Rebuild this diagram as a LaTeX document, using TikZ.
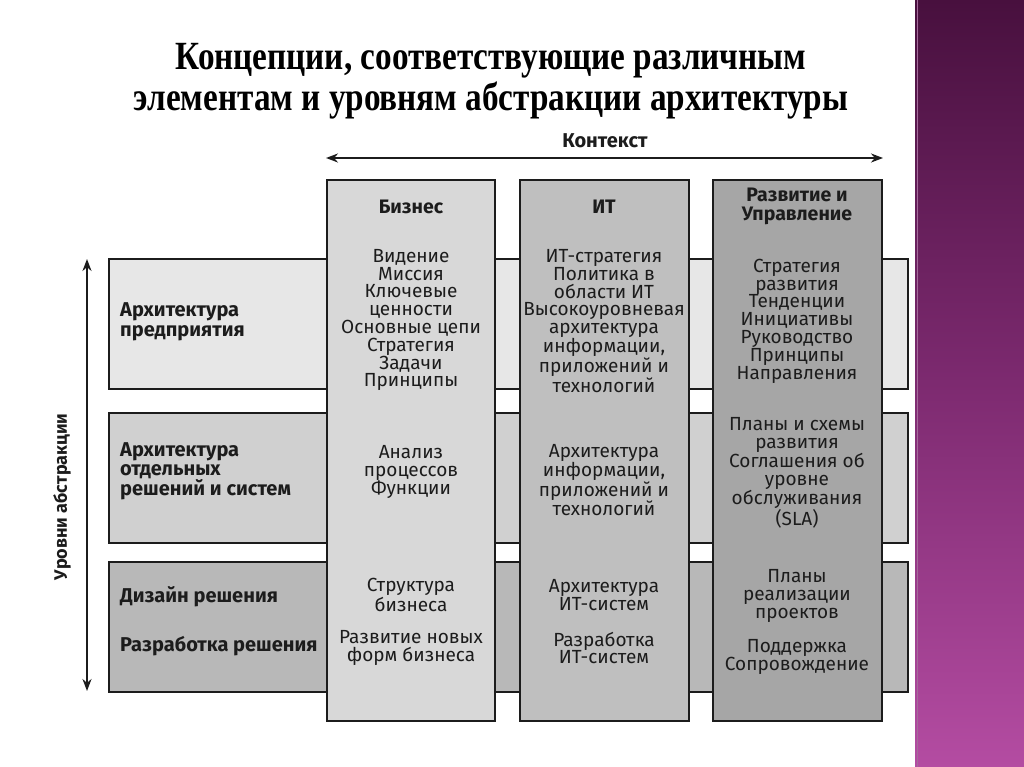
\documentclass[tikz,border=0pt]{standalone}
\usepackage{fontspec}
\setmainfont{Fira Sans}
\newfontfamily\titlefont[FakeStretch=0.83]{Liberation Serif}
\usetikzlibrary{arrows.meta}
\definecolor{plumtop}{RGB}{72,16,62}
\definecolor{plummid}{RGB}{125,42,112}
\definecolor{plumbot}{RGB}{180,76,162}
\definecolor{rowA}{RGB}{231,231,231}
\definecolor{rowB}{RGB}{208,208,208}
\definecolor{rowC}{RGB}{184,184,184}
\definecolor{colA}{RGB}{216,216,216}
\definecolor{colB}{RGB}{191,191,191}
\definecolor{colC}{RGB}{166,166,166}
\definecolor{ink}{RGB}{28,28,28}
\tikzset{
  box/.style={draw=ink, line width=1.6pt, anchor=north west, inner sep=0pt, outer sep=0pt},
  body/.style={font=\fontsize{19}{17.8}\selectfont, align=center, inner sep=0pt, text=ink},
  head/.style={font=\bfseries\fontsize{19.5}{19}\selectfont, align=center, inner sep=0pt, text=ink},
  rowlabel/.style={font=\bfseries\fontsize{20}{19.5}\selectfont, align=left, anchor=west, inner sep=0pt, text=ink},
  bigarrow/.style={line width=2.8pt, draw=ink, {Stealth[length=12pt,width=9pt]}-{Stealth[length=12pt,width=9pt]}}
}
\begin{document}
\begin{tikzpicture}[x=1pt,y=-1pt]
\useasboundingbox (0,0) rectangle (1024,767);
\fill[white] (0,0) rectangle (1024,767);
% purple band
\shade[top color=plumtop, bottom color=plumbot, middle color=plummid] (915,0) rectangle (1024,767);
\draw[plummid!70!white, line width=1pt] (917,0) -- (917,767);
% title
\node[font=\titlefont\bfseries\fontsize{40}{41}\selectfont, align=center, inner sep=0pt] (title) at (491,81)
  {Концепции, соответствующие различным\\элементам и уровням абстракции архитектуры};
% context
\node[font=\bfseries\fontsize{20}{20}\selectfont, text=ink, inner sep=0pt] (ctx) at (605,141) {Контекст};
\coordinate (cl) at (326,158);
\coordinate (cr) at (883,158);
\draw[bigarrow] (cl) -- (cr);
% rows
\node[box, fill=rowA, minimum width=799pt, minimum height=130pt] (r1) at (109,259) {};
\node[box, fill=rowB, minimum width=799pt, minimum height=130pt] (r2) at (109,413) {};
\node[box, fill=rowC, minimum width=799pt, minimum height=130pt] (r3) at (109,562) {};
% columns
\node[box, fill=colA, minimum width=168pt, minimum height=541pt] (c1) at (327,180) {};
\node[box, fill=colB, minimum width=169pt, minimum height=541pt] (c2) at (520,180) {};
\node[box, fill=colC, minimum width=169pt, minimum height=541pt] (c3) at (713,180) {};
% levels arrow
\coordinate (lt) at (87,259);
\coordinate (lb) at (87,691);
\draw[bigarrow] (lt) -- (lb);
\node[font=\bfseries\fontsize{18}{18}\selectfont, text=ink, rotate=90, inner sep=0pt] (lvl) at (62,497) {Уровни абстракции};
% row labels
\node[rowlabel] (l1) at (120,322) {Архитектура\\предприятия};
\node[rowlabel] (l2) at (120,471) {Архитектура\\отдельных\\решений и систем};
\node[rowlabel] (l3a) at (120,597) {Дизайн решения};
\node[rowlabel] (l3b) at (120,646) {Разработка решения};
% column 1
\node[head] (h1) at (411,207) {Бизнес};
\node[body] (b11) at (411,320) {Видение\\Миссия\\Ключевые\\ценности\\Основные цепи\\Стратегия\\Задачи\\Принципы};
\node[body] (b12) at (411,472) {Анализ\\процессов\\Функции};
\node[body] (b13) at (411,595) {Структура\\бизнеса};
\node[body] (b14) at (411,648) {Развитие новых\\форм бизнеса};
% column 2
\node[head] (h2) at (604,207) {ИТ};
\node[body] (b21) at (604,321) {ИТ-стратегия\\Политика в\\области ИТ\\Высокоуровневая\\архитектура\\информации,\\приложений и\\технологий};
\node[body] (b22) at (604,480) {Архитектура\\информации,\\приложений и\\технологий};
\node[body] (b23) at (604,595) {Архитектура\\ИТ-систем};
\node[body] (b24) at (604,648) {Разработка\\ИТ-систем};
% column 3
\node[head] (h3) at (797,206) {Развитие и\\Управление};
\node[body] (b31) at (797,321) {Стратегия\\развития\\Тенденции\\Инициативы\\Руководство\\Принципы\\Направления};
\node[body] (b32) at (797,473) {Планы и схемы\\развития\\Соглашения об\\уровне\\обслуживания\\(SLA)};
\node[body] (b33) at (797,596) {Планы\\реализации\\проектов};
\node[body] (b34) at (797,657) {Поддержка\\Сопровождение};
\end{tikzpicture}
\end{document}
